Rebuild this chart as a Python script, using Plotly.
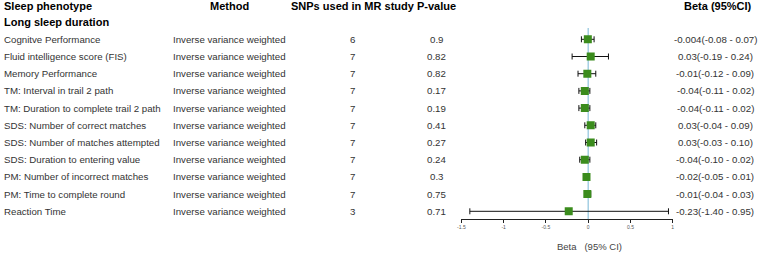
import plotly.graph_objects as go

phenotypes = ["Cognitve Performance", "Fluid intelligence score (FIS)", "Memory Performance",
              "TM: Interval in trail 2 path", "TM: Duration to complete trail 2 path",
              "SDS: Number of correct matches", "SDS: Number of matches attempted",
              "SDS: Duration to entering value", "PM: Number of incorrect matches",
              "PM: Time to complete round", "Reaction Time"]
methods = ["Inverse variance weighted"] * 11
snps = [6, 7, 7, 7, 7, 7, 7, 7, 7, 7, 3]
pvals = ["0.9", "0.82", "0.82", "0.17", "0.19", "0.41", "0.27", "0.24", "0.3", "0.75", "0.71"]
beta = [-0.004, 0.03, -0.01, -0.04, -0.04, 0.03, 0.03, -0.04, -0.02, -0.01, -0.23]
lower = [-0.08, -0.19, -0.12, -0.11, -0.11, -0.04, -0.03, -0.10, -0.05, -0.04, -1.40]
upper = [0.07, 0.24, 0.09, 0.02, 0.02, 0.09, 0.10, 0.02, 0.01, 0.03, 0.95]
beta_text = ["-0.004(-0.08 - 0.07)", "0.03(-0.19 - 0.24)", "-0.01(-0.12 - 0.09)",
             "-0.04(-0.11 - 0.02)", "-0.04(-0.11 - 0.02)", "0.03(-0.04 - 0.09)",
             "0.03(-0.03 - 0.10)", "-0.04(-0.10 - 0.02)", "-0.02(-0.05 - 0.01)",
             "-0.01(-0.04 - 0.03)", "-0.23(-1.40 - 0.95)"]
headers = ["Sleep phenotype", "Method", "SNPs used in MR study", "P-value", "Beta (95%CI)"]
group_label = "Long sleep duration"
x_ticks = [-1.5, -1, -0.5, 0, 0.5, 1]

W, H = 764, 254
FONT = "Liberation Sans, Arial, sans-serif"
rows = list(range(len(phenotypes)))

# pixel layout helpers
row0_px, row_step = 39.3, 17.2
axis_px = 219
y_top = -row0_px / row_step
y_bot = (axis_px - row0_px) / row_step

fig = go.Figure()
fig.add_trace(go.Scatter(
    x=beta, y=rows, mode="markers",
    marker=dict(symbol="square", size=8, color="#3b8c1d"),
    error_x=dict(type="data", symmetric=False,
                 array=[u - b for u, b in zip(upper, beta)],
                 arrayminus=[b - l for b, l in zip(beta, lower)],
                 color="#111111", thickness=1, width=3),
    showlegend=False, hoverinfo="skip"))

fig.add_shape(type="line", xref="x", yref="y", x0=0, x1=0, y0=-0.65, y1=y_bot,
              line=dict(color="#8ec3dc", width=1.2), layer="below")

def px(x):
    return x / W

ann = []
hdr_y = -1.93
ann.append(dict(x=px(-2), y=hdr_y, xanchor="left", text="<b>%s</b>" % headers[0]))
ann.append(dict(x=px(227), y=hdr_y, xanchor="center", text="<b>%s</b>" % headers[1]))
ann.append(dict(x=px(351.5), y=hdr_y, xanchor="center", text="<b>%s</b>" % headers[2]))
ann.append(dict(x=px(436), y=hdr_y, xanchor="center", text="<b>%s</b>" % headers[3]))
ann.append(dict(x=px(720), y=hdr_y, xanchor="center", text="<b>%s</b>" % headers[4]))
ann.append(dict(x=px(-2), y=-1.0, xanchor="left", text="<b>%s</b>" % group_label))
for a in ann:
    a.update(font=dict(family=FONT, size=11, color="#000000"))

for i in rows:
    body = dict(font=dict(family=FONT, size=9.7, color="#333333"))
    ann.append(dict(x=px(-2), y=i, xanchor="left", text=phenotypes[i], **body))
    ann.append(dict(x=px(168), y=i, xanchor="left", text=methods[i], **body))
    ann.append(dict(x=px(351), y=i, xanchor="center", text=str(snps[i]), **body))
    ann.append(dict(x=px(436), y=i, xanchor="center", text=pvals[i], **body))
    ann.append(dict(x=px(717), y=i, xanchor="center", text=beta_text[i], **body))

for a in ann:
    a.update(xref="paper", yref="y", yanchor="middle", showarrow=False)

ann.append(dict(x=px(590), y=(H - 246) / H, xref="paper", yref="paper",
                xanchor="center", yanchor="middle", showarrow=False,
                text="Beta &nbsp; (95% CI)",
                font=dict(family=FONT, size=9.5, color="#444444")))

fig.update_layout(
    width=W, height=H, margin=dict(l=0, r=0, t=0, b=0),
    paper_bgcolor="white", plot_bgcolor="white",
    annotations=ann,
    xaxis=dict(domain=[px(461), px(674)], range=[-1.5, 1], tickvals=x_ticks,
               ticktext=[str(t) for t in x_ticks],
               showgrid=False, zeroline=False, showline=True, linecolor="#222222",
               linewidth=1, ticks="outside", ticklen=3, tickcolor="#222222",
               tickfont=dict(family=FONT, size=5, color="#555555"), fixedrange=True),
    yaxis=dict(domain=[(H - axis_px) / H, 1], range=[y_bot, y_top], visible=False,
               showgrid=False, zeroline=False, fixedrange=True),
)

fig.write_html("out.html", post_script="document.body.style.margin='0px';document.body.style.padding='0px';",
               config={"displayModeBar": False})
